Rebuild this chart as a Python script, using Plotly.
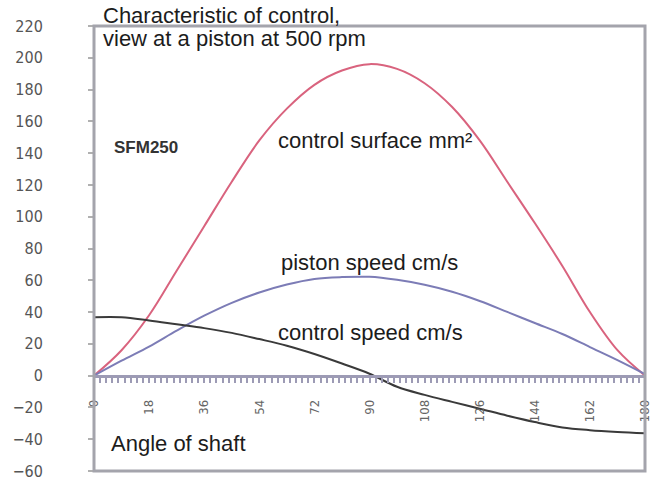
import plotly.graph_objects as go

# Shaft angle (degrees)
angles = [0, 9, 18, 27, 36, 45, 54, 63, 72, 81, 90, 99, 108, 117, 126, 135, 144, 153, 162, 171, 180]
# control surface mm²
control_surface = [0, 16, 38, 66, 94, 122, 148, 168, 183, 192, 196, 193, 184, 169, 148, 122, 96, 69, 40, 16, 0]
# piston speed cm/s
piston_speed = [0, 9.4, 18.3, 28.3, 37.7, 45.8, 52.3, 57.3, 60.8, 62, 62.2, 60.3, 57.2, 52.8, 47, 40.1, 33.1, 26.2, 18, 9.8, 1]
# control speed cm/s
control_speed = [36.7, 36.7, 34.7, 32.3, 29.9, 26.9, 23, 18.8, 13.6, 7.6, 1.2, -7, -12.1, -16.5, -20.8, -25.2, -29.2, -32.6, -34.3, -35.4, -36.2]

x_tick_vals = [0, 18, 36, 54, 72, 90, 108, 126, 144, 162, 180]
x_tick_labels = ["0", "18", "36", "54", "72", "90", "108", "126", "144", "162", "180"]
y_tick_vals = [-60, -40, -20, 0, 20, 40, 60, 80, 100, 120, 140, 160, 180, 200, 220]

title_lines = ["Characteristic of control,", "view at a piston at 500 rpm"]

fig = go.Figure()
fig.add_trace(go.Scatter(x=angles, y=control_surface, mode="lines", line=dict(color="#d9637e", width=2, shape="spline"), name="control surface mm²"))
fig.add_trace(go.Scatter(x=angles, y=piston_speed, mode="lines", line=dict(color="#7c7cb6", width=2, shape="spline"), name="piston speed cm/s"))
fig.add_trace(go.Scatter(x=angles, y=control_speed, mode="lines", line=dict(color="#3a3a3a", width=2, shape="spline"), name="control speed cm/s"))

axis_col = "#9d9bb5"
box_col = "#a4a4ac"
lab_font = dict(family="Liberation Sans, Arial, sans-serif", size=22, color="#1c1c1c")

fig.update_layout(
    width=659, height=484,
    margin=dict(l=94, r=14, t=26, b=13, autoexpand=False),
    paper_bgcolor="white", plot_bgcolor="white",
    showlegend=False,
    xaxis=dict(
        range=[0, 180], anchor="free", position=60 / 280, automargin=False,
        showgrid=False, zeroline=False,
        showline=True, linecolor=axis_col, linewidth=3,
        tickvals=x_tick_vals, ticktext=x_tick_labels,
        ticks="outside", ticklen=5, tickwidth=2, tickcolor=axis_col,
        minor=dict(dtick=2, ticks="outside", ticklen=5, tickwidth=2, tickcolor=axis_col),
        tickangle=-90, ticklabelstandoff=12,
        tickfont=dict(family="DejaVu Sans Condensed, Liberation Sans Narrow, sans-serif", size=13, color="#666666"),
    ),
    yaxis=dict(
        range=[-60, 220], tickvals=y_tick_vals, automargin=False,
        showgrid=False, zeroline=False, showline=False,
        ticks="outside", ticklen=5, tickwidth=2, tickcolor="#b0b0b0",
        ticklabelstandoff=42,
        tickfont=dict(family="DejaVu Sans Condensed, Liberation Sans Narrow, sans-serif", size=16, color="#555555"),
    ),
    shapes=[dict(type="rect", xref="paper", yref="paper", x0=0, x1=1, y0=0, y1=1,
                 line=dict(color=box_col, width=3), layer="above")],
)

# title lines, placed in paper coordinates (above/inside the top of the frame)
fig.add_annotation(x=(101 - 94) / 550, y=1 + (26 - 15.5) / 445, xref="paper", yref="paper",
                   text=title_lines[0], showarrow=False, xanchor="left", yanchor="middle", font=lab_font)
fig.add_annotation(x=(101 - 94) / 550, y=1 - (38 - 26) / 445, xref="paper", yref="paper",
                   text=title_lines[1], showarrow=False, xanchor="left", yanchor="middle", font=lab_font)

ann = [
    ("<b>SFM250</b>", 6.0, 143.5, dict(family="Liberation Sans, Arial, sans-serif", size=17, color="#333333")),
    ("control surface mm²", 59.4, 147.9, lab_font),
    ("piston speed cm/s", 60.4, 71.1, lab_font),
    ("control speed cm/s", 59.4, 27.1, lab_font),
    ("Angle of shaft", 4.9, -42.8, lab_font),
]
for text, x, y, f in ann:
    fig.add_annotation(x=x, y=y, xref="x", yref="y", text=text, showarrow=False,
                       xanchor="left", yanchor="middle", font=f)

fig.write_html("out.html", config={"displayModeBar": False},
               post_script="document.body.style.margin='0';")
